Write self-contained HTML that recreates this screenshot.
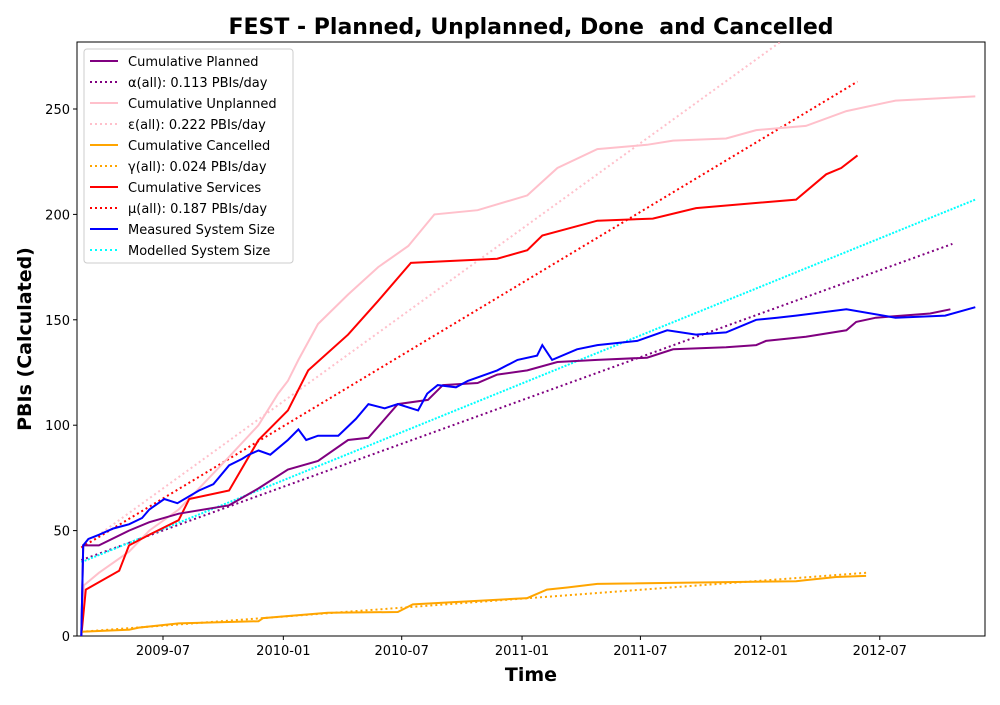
<!DOCTYPE html>
<html><head><meta charset="utf-8"><style>
body{margin:0;background:#fff;font-family:"Liberation Sans","DejaVu Sans",sans-serif;}
svg text{font-family:"DejaVu Sans","Liberation Sans",sans-serif;}
</style></head><body>
<svg id="chart" width="1000" height="700" xmlns="http://www.w3.org/2000/svg">
<text x="531" y="34" text-anchor="middle" font-size="22" font-weight="bold" style="white-space:pre">FEST - Planned, Unplanned, Done  and Cancelled</text>
<text x="531" y="681" text-anchor="middle" font-size="19" font-weight="bold">Time</text>
<text transform="translate(31,339) rotate(-90)" text-anchor="middle" font-size="19" font-weight="bold">PBIs (Calculated)</text>
<g id="plot"></g>
</svg>
<script>
// days relative to 2009-07-01
const xTickLabels=["2009-07","2010-01","2010-07","2011-01","2011-07","2012-01","2012-07"];
const xTickDays=[0,184,365,549,730,914,1096];
const yTicks=[0,50,100,150,200,250];
const plannedDays=[-125,-122,-98,-52,-21,24,101,146,191,237,283,314,359,405,428,481,511,557,603,664,740,780,861,907,922,983,1045,1060,1090,1173,1204];
const plannedVals=[0,43,43,50,54,58,62,70,79,83,93,94,110,112,119,120,124,126,130,131,132,136,137,138,140,142,145,149,151,153,155];
const unplannedDays=[-125,-121,-98,-52,-21,24,55,101,146,176,191,207,237,283,329,375,415,481,557,603,664,740,780,861,907,983,1045,1120,1242];
const unplannedVals=[0,24,30,40,50,60,70,85,100,115,121,131,148,162,175,185,200,202,209,222,231,233,235,236,240,242,249,254,256];
const servicesDays=[-125,-118,-67,-52,-21,24,40,101,146,191,222,283,329,379,511,557,580,664,749,815,968,1014,1037,1062];
const servicesVals=[0,22,31,43,48,55,65,69,93,107,126,143,159,177,179,183,190,197,198,203,207,219,222,228];
const cancelledDays=[-125,-52,-37,24,146,153,252,359,382,557,587,618,664,968,983,1029,1075];
const cancelledVals=[2,3,4,6,7,8.5,11,11.4,15,18,22,23,24.7,26,26.5,28,28.5];
const measuredDays=[-125,-122,-114,-98,-76,-52,-32,-21,2,22,55,77,101,121,131,146,164,191,207,219,237,268,295,314,339,359,390,404,420,448,466,511,542,572,580,595,633,664,725,771,815,861,907,939,968,1045,1120,1196,1242];
const measuredVals=[0,43,46,48,51,53,56,60,65,63,69,72,81,84,86,88,86,93,98,93,95,95,103,110,108,110,107,115,119,118,121,126,131,133,138,131,136,138,140,145,143,144,150,151,152,155,151,152,156];
const fitPlannedDays=[-125,1207], fitPlannedVals=[36,186];
const fitUnplannedDays=[-125,945], fitUnplannedVals=[42,282];
const fitServicesDays=[-125,1062], fitServicesVals=[42,263];
const fitCancelledDays=[-125,1075], fitCancelledVals=[2,30];
const modelledDays=[-125,1242], modelledVals=[35,207];

const L=77,R=985,T=42,B=636;
const X=d=>163+d*0.654;
const Y=v=>B-v*2.108;
const NS="http://www.w3.org/2000/svg";
const plot=document.getElementById('plot');
function mk(tag,attrs,parent){const e=document.createElementNS(NS,tag);for(const k in attrs)e.setAttribute(k,attrs[k]);(parent||plot).appendChild(e);return e;}
const frame=mk('rect',{x:L,y:T,width:R-L,height:B-T,fill:'none',stroke:'#000','stroke-width':1});


xTickDays.forEach((d,i)=>{
  const t=mk('line',{x1:X(d),x2:X(d),y1:B,y2:B+4,stroke:'#000'});
  
  
  const tx=mk('text',{x:X(d),y:B+19,'text-anchor':'middle','font-size':13});
  tx.textContent=xTickLabels[i];
  
  
});
yTicks.forEach(v=>{
  const t=mk('line',{x1:L-4,x2:L,y1:Y(v),y2:Y(v),stroke:'#000'});
  
  
  const tx=mk('text',{x:L-7,y:Y(v)+5,'text-anchor':'end','font-size':13});
  tx.textContent=v;
  
  
});
const cp=document.createElementNS(NS,'clipPath');cp.id='clip';mk('rect',{x:L,y:T,width:R-L,height:B-T},cp);plot.appendChild(cp);
const g=mk('g',{'clip-path':'url(#clip)'});
function lineG(days,vals,color,dash,name){
  const p=days.map((d,i)=>X(d).toFixed(1)+','+Y(vals[i]).toFixed(1)).join(' ');
  const e=mk('polyline',{points:p,fill:'none',stroke:color,'stroke-width':2,'stroke-dasharray':dash||'none'},g);
  
  
}
lineG(fitUnplannedDays,fitUnplannedVals,'pink','2,3','unplanned-fit-line');
lineG(fitServicesDays,fitServicesVals,'red','2,3','services-fit-line');
lineG(fitPlannedDays,fitPlannedVals,'purple','2,3','planned-fit-line');
lineG(fitCancelledDays,fitCancelledVals,'orange','2,3','cancelled-fit-line');
lineG(modelledDays,modelledVals,'cyan','2,1.5','modelled-system-size-line');
lineG(unplannedDays,unplannedVals,'pink',null,'cumulative-unplanned-line');
lineG(servicesDays,servicesVals,'red',null,'cumulative-services-line');
lineG(plannedDays,plannedVals,'purple',null,'cumulative-planned-line');
lineG(cancelledDays,cancelledVals,'orange',null,'cumulative-cancelled-line');
lineG(measuredDays,measuredVals,'blue',null,'measured-system-size-line');
const leg=mk('g',{});


mk('rect',{x:84,y:49,width:209,height:214,rx:3,fill:'#fff','fill-opacity':0.85,stroke:'#ccc'},leg);
const legLabels=["Cumulative Planned","α(all): 0.113 PBIs/day","Cumulative Unplanned","ε(all): 0.222 PBIs/day","Cumulative Cancelled","γ(all): 0.024 PBIs/day","Cumulative Services","μ(all): 0.187 PBIs/day","Measured System Size","Modelled System Size"];
const legColors=['purple','purple','pink','pink','orange','orange','red','red','blue','cyan'];
legLabels.forEach((s,i)=>{
  const y=61+i*21;
  const ln=mk('line',{x1:90,x2:118,y1:y,y2:y,stroke:legColors[i],'stroke-width':2,'stroke-dasharray':(i%2===1)?'2,3':'none'},leg);
  
  
  const t=mk('text',{x:128,y:y+5,'font-size':13},leg);
  t.textContent=s;
  
  
});
</script>
</body></html>
